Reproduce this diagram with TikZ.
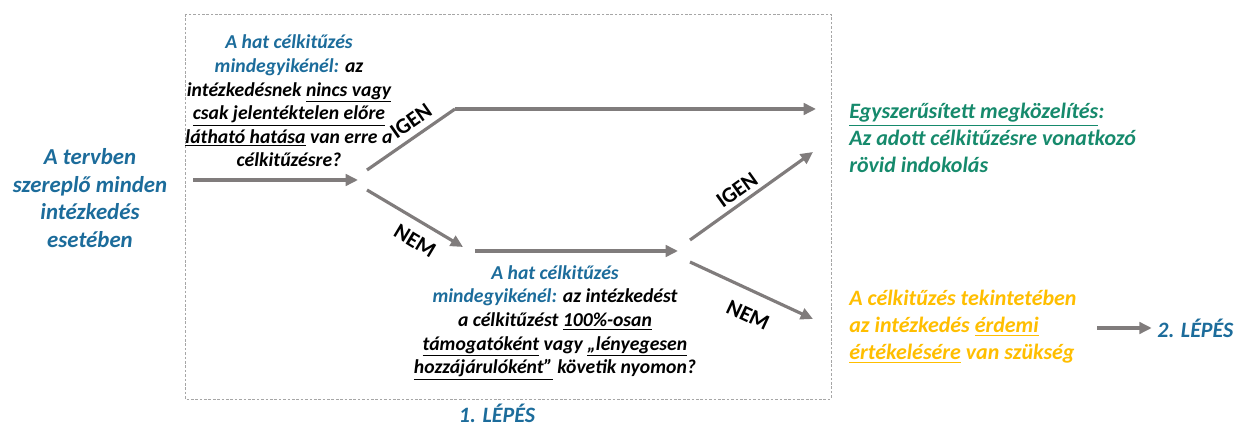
\documentclass[tikz,border=0pt]{standalone}
\usepackage{fontspec}
\setmainfont{Carlito}
\usetikzlibrary{arrows.meta}

\definecolor{stepblue}{RGB}{28,108,155}
\definecolor{simplegreen}{RGB}{22,138,108}
\definecolor{fullorange}{RGB}{255,190,0}
\definecolor{arrowgray}{RGB}{128,124,124}

\tikzset{
  flow/.style={draw=arrowgray, line width=1.8pt, -{Triangle[length=7pt,width=6.5pt]}},
  seg/.style={draw=arrowgray, line width=1.8pt},
  txt/.style={font=\fontsize{11.2}{13.4}\selectfont\bfseries\itshape, align=center, inner sep=0pt},
  big/.style={font=\fontsize{12.5}{15.3}\selectfont\bfseries\itshape, inner sep=0pt},
  ans/.style={font=\fontsize{12.5}{15}\selectfont\bfseries, inner sep=0pt}
}

\begin{document}
\begin{tikzpicture}[x=0.02cm, y=-0.02cm]
    \useasboundingbox (0,0) rectangle (1237,428);

    % Frame of step 1
    \draw[gray!70, line width=0.5pt, dash pattern=on 1.5pt off 1pt] (185,14) rectangle (831,399);

    % Nodes
    \node[big, font=\fontsize{13}{15.6}\selectfont\bfseries\itshape, text=stepblue, align=center] (measure) at (90,198)
      {A tervben\\szereplő minden\\intézkedés\\esetében};
    \node[txt] (q1) at (289,101)
      {\textcolor{stepblue}{A hat célkitűzés}\\
       \textcolor{stepblue}{mindegyikénél:} az\\
       intézkedésnek \underline{nincs vagy}\\
       \underline{csak jelentéktelen előre}\\
       \underline{látható hatása} van erre a\\
       célkitűzésre?};
    \node[txt] (q2) at (555,323)
      {\textcolor{stepblue}{A hat célkitűzés}\\
       \textcolor{stepblue}{mindegyikénél:} az intézkedést\\
       a célkitűzést \underline{100\%-osan}\\
       \underline{támogatóként} vagy \underline{„lényegesen}\\
       \underline{hozzájárulóként”} követik nyomon?};
    \node[big, text=simplegreen, align=left, anchor=west] (simple) at (849,138)
      {\underline{Egyszerűsített megközelítés}:\\
       Az adott célkitűzésre vonatkozó\\
       rövid indokolás};
    \node[big, text=fullorange, align=left, anchor=west] (full) at (849,327)
      {A célkitűzés tekintetében\\
       az intézkedés \underline{érdemi}\\
       \underline{értékelésére} van szükség};
    \node[big, text=stepblue, anchor=west] (step2) at (1157,328) {2. LÉPÉS};
    \node[big, text=stepblue] (step1) at (497,413) {1. LÉPÉS};

    % Branch points
    \coordinate (in) at (193,180);
    \coordinate (fork1) at (358,180);
    \coordinate (up1) at (367,170);
    \coordinate (knee) at (455,109);
    \coordinate (end1) at (816,109);
    \coordinate (down1) at (367,190);
    \coordinate (end2) at (463,247);
    \coordinate (mid1) at (475,251);
    \coordinate (fork2) at (678,251);
    \coordinate (up2) at (690,240);
    \coordinate (end3) at (813,152);
    \coordinate (down2) at (690,262);
    \coordinate (end4) at (813,319);
    \coordinate (next) at (1097,328);

    % Edges
    \draw[flow] (in) -- (fork1);
    \draw[seg] (up1) -- (knee);
    \draw[flow] (knee) -- (end1);
    \draw[flow] (down1) -- (end2);
    \draw[flow] (mid1) -- (fork2);
    \draw[flow] (up2) -- (end3);
    \draw[flow] (down2) -- (end4);
    \draw[flow] (next) -- ([xshift=-3pt]step2.west);

    % Edge labels
    \node[ans, rotate=35] (yes1) at (411,121) {IGEN};
    \node[ans, rotate=-31] (no1) at (415,241) {NEM};
    \node[ans, rotate=35.5] (yes2) at (737,190) {IGEN};
    \node[ans, rotate=-25] (no2) at (748,315) {NEM};
\end{tikzpicture}
\end{document}
